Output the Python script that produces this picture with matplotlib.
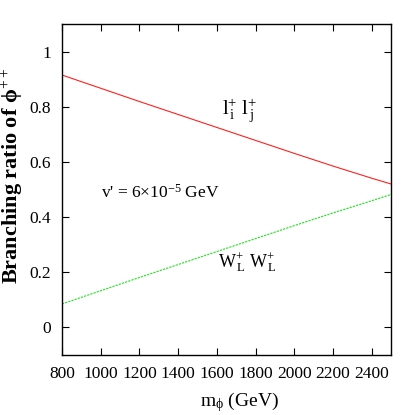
import matplotlib
matplotlib.use("Agg")
import matplotlib.pyplot as plt

plt.rcParams['font.family'] = ['Liberation Serif', 'DejaVu Serif']
plt.rcParams['mathtext.fontset'] = 'custom'
plt.rcParams['mathtext.rm'] = 'Liberation Serif'
plt.rcParams['mathtext.it'] = 'Liberation Serif:italic'
plt.rcParams['mathtext.bf'] = 'Liberation Serif:bold'

mass = [800, 1000, 1200, 1400, 1600, 1800, 2000, 2200, 2400, 2500]
br_ll = [0.915, 0.867, 0.819, 0.772, 0.725, 0.678, 0.631, 0.585, 0.541, 0.520]
br_ww = [0.085, 0.133, 0.181, 0.228, 0.275, 0.322, 0.369, 0.415, 0.459, 0.482]
xticks = [800, 1000, 1200, 1400, 1600, 1800, 2000, 2200, 2400]
yticks = [0, 0.2, 0.4, 0.6, 0.8, 1]
ytick_labels = ['0', '0.2', '0.4', '0.6', '0.8', '1']

fig = plt.figure(figsize=(4.15, 4.15), dpi=100)
ax = fig.add_axes([62/415, 60/415, 329/415, 331/415])

ax.plot(mass, br_ll, color='#ff2020', lw=0.8)
ax.plot(mass, br_ww, color='#20e020', lw=0.8, ls=(0, (2, 1)))

ax.set_xlim(800, 2500)
ax.set_ylim(-0.1, 1.1)
ax.set_xticks(xticks)
ax.set_xticklabels([str(v) for v in xticks])
ax.set_yticks(yticks)
ax.set_yticklabels(ytick_labels)
ax.tick_params(direction='in', top=True, right=True, length=5, labelsize=12.5, pad=8)
for s in ax.spines.values():
    s.set_linewidth(1.0)

ax.text(1625, 0.785, r'l$^{+}_{\,\mathrm{i}}$ l$^{+}_{\,\mathrm{j}}$', fontsize=15, ha='left', va='center')
ax.text(1000, 0.49, r"v' = 6$\times$10$^{-5}$ GeV", fontsize=12.5, ha='left', va='center')
ax.text(1605, 0.235, r'W$^{+}_{\,\mathrm{L}}$ W$^{+}_{\,\mathrm{L}}$', fontsize=13, ha='left', va='center')

ax.set_xlabel(r'm$_{\mathrm{\phi}}$ (GeV)', fontsize=14, labelpad=2)
ax.xaxis.set_label_coords(0.54, -0.105)
ax.set_ylabel(r'Branching ratio of $\mathbf{\phi}^{++}$', fontsize=16, fontweight='bold', labelpad=4)
ax.yaxis.set_label_coords(-0.11, 0.54)

fig.savefig('out.png', dpi=100)
